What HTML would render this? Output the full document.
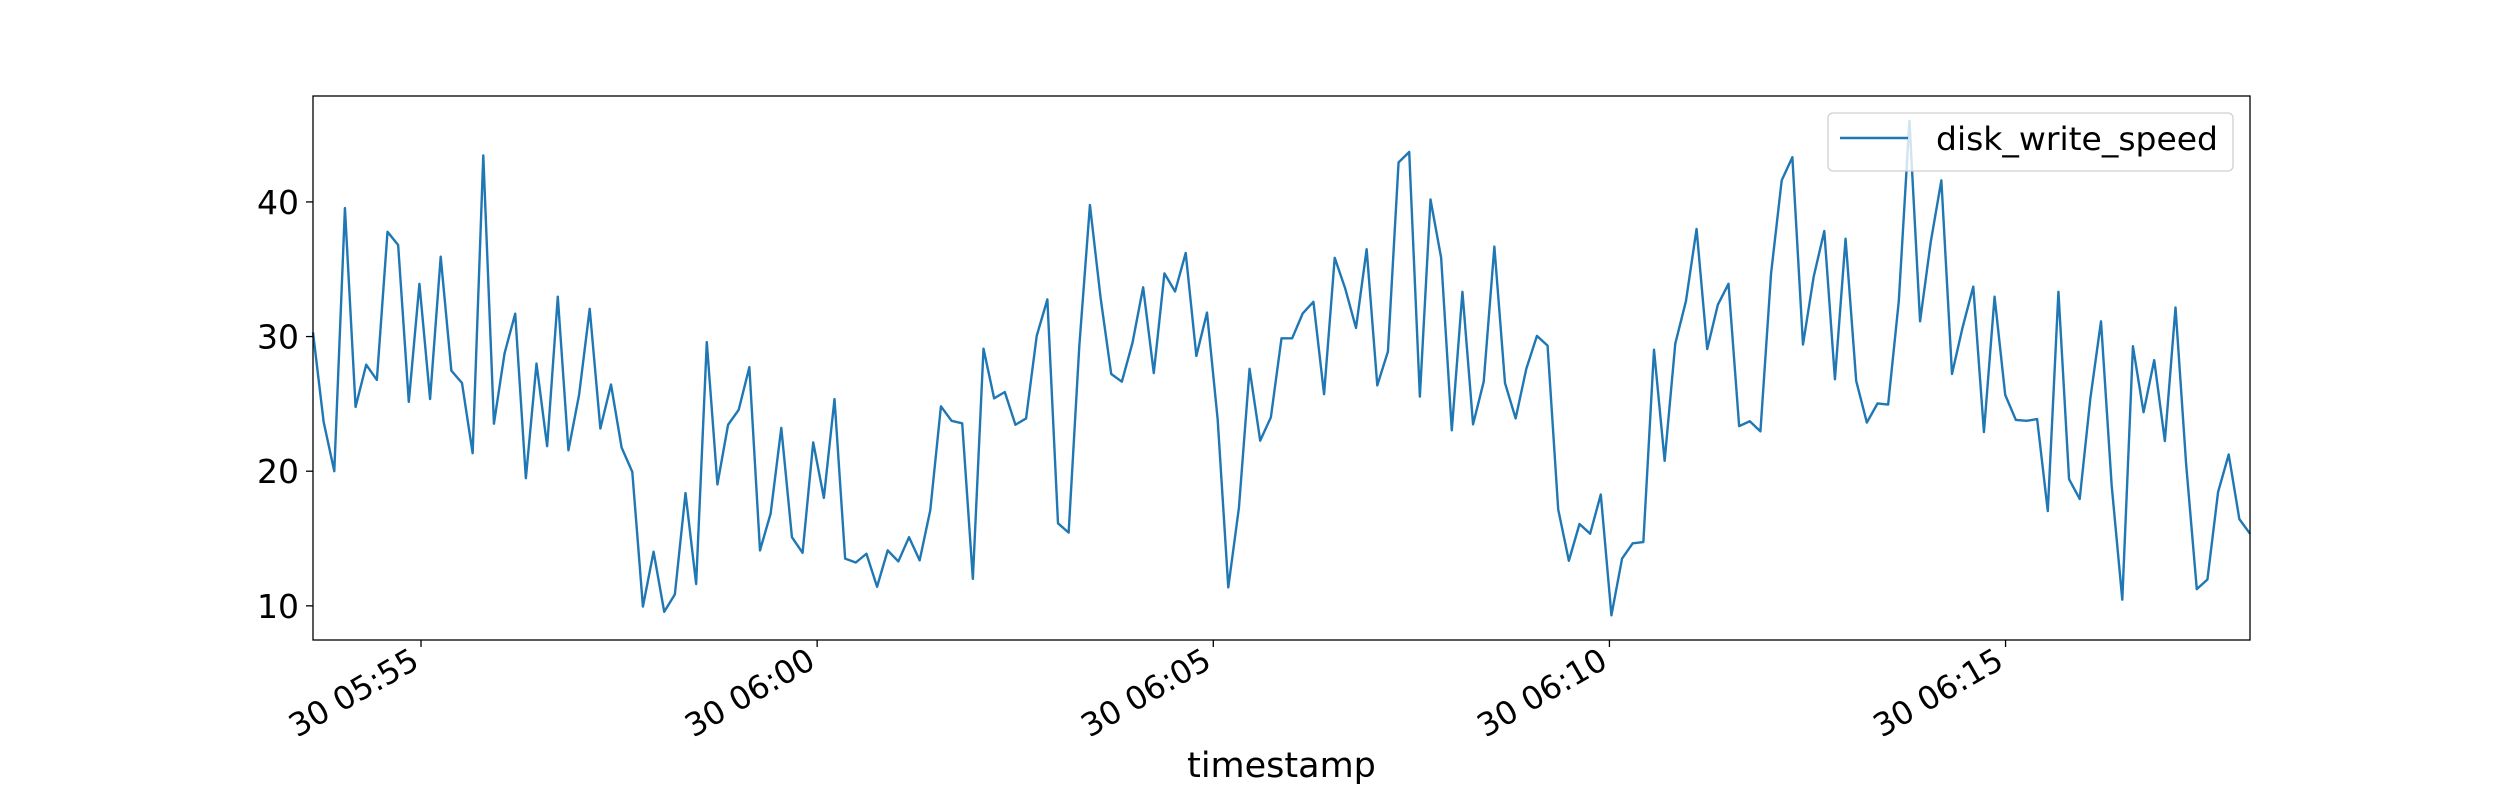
<!DOCTYPE html>
<html><head><meta charset="utf-8"><style>
html,body{margin:0;padding:0;background:#fff;}
svg{display:block;font-family:"DejaVu Sans","Liberation Sans",sans-serif;}
</style></head><body>
<svg id="chart" width="2500" height="800" viewBox="0 0 2500 800" xmlns="http://www.w3.org/2000/svg">
<rect x="0" y="0" width="2500" height="800" fill="#fff"/>
<g id="plot"></g>
</svg>
<script>
const values = [30.31,23.66,20.0,39.54,24.77,27.91,26.78,37.78,36.80,25.15,33.92,25.36,35.93,27.47,26.55,21.34,43.45,23.53,28.76,31.70,19.48,27.99,21.86,32.96,21.55,25.67,32.06,
23.17,26.44,21.75,19.95,9.95,14.02,9.56,10.85,18.38,11.62,29.59,19.02,23.45,24.56,27.73,14.12,16.86,23.22,15.10,13.94,22.14,18.02,25.36,13.51,13.22,13.87,
11.42,14.12,13.30,15.10,13.38,17.11,24.82,23.74,23.56,12.01,29.10,25.41,25.88,23.45,23.92,30.05,32.76,16.13,15.44,29.28,39.77,32.89,27.22,26.65,29.54,33.66,
27.29,34.69,33.35,36.21,28.56,31.78,23.87,11.37,17.29,27.60,22.27,24.0,29.87,29.87,31.73,32.58,25.72,35.85,33.53,30.64,36.49,26.37,28.89,42.94,43.71,
25.54,40.18,35.85,23.04,33.32,23.48,26.65,36.68,26.55,23.92,27.60,30.05,29.33,17.16,13.35,16.08,15.36,18.27,9.30,13.51,14.64,14.74,29.02,20.77,29.48,32.63,
37.99,29.07,32.37,33.92,23.35,23.71,22.96,34.69,41.60,43.32,29.41,34.43,37.84,26.83,37.27,26.70,23.61,25.03,24.95,32.63,46.03,31.13,37.01,41.60,27.22,
30.70,33.71,22.91,32.96,25.67,23.81,23.74,23.87,17.04,33.32,19.41,17.94,25.41,31.13,18.97,10.46,29.28,24.38,28.25,22.24,32.16,20.52,11.24,11.96,18.45,21.24,16.44,15.36];
const startSeconds = 5*3600 + 53*60 + 38.2;   // 05:53:38
const stepSeconds = 8.06;
const yTicks = [10, 20, 30, 40];
const xTickMinutes = ["05:55", "06:00", "06:05", "06:10", "06:15"];
const xTickLabels = ["30 05:55", "30 06:00", "30 06:05", "30 06:10", "30 06:15"];

const NS = "http://www.w3.org/2000/svg";
const L = 313, R = 2250, T = 96, B = 640;
const times = values.map((v, i) => startSeconds + i * stepSeconds);
const tMin = times[0], tMax = times[times.length - 1];
let vMin = Math.min(...values), vMax = Math.max(...values);
const pad = (vMax - vMin) * 0.05;
const yLo = vMin - pad, yHi = vMax + pad;
function xScale(t) { return L + (t - tMin) / (tMax - tMin) * (R - L); }
function yScale(v) { return B - (v - yLo) / (yHi - yLo) * (B - T); }
const plot = document.getElementById('plot');
function mk(tag, attrs, parent) {
  const e = document.createElementNS(NS, tag);
  for (const k in attrs) e.setAttribute(k, attrs[k]);
  (parent || plot).appendChild(e);
  return e;
}

const pts = values.map((v, i) => xScale(times[i]).toFixed(2) + ',' + yScale(v).toFixed(2)).join(' ');
const line = mk('polyline', {points: pts, fill: 'none', stroke: '#1f77b4', 'stroke-width': 2.4, 'stroke-linejoin': 'round'});



yTicks.forEach(v => {
  const y = yScale(v);
  const tk = mk('line', {x1: L - 7, x2: L, y1: y, y2: y, stroke: '#000', 'stroke-width': 1.3});
  
  
  const tx = mk('text', {x: L - 14, y: y + 12, 'text-anchor': 'end', 'font-size': 33, fill: '#000'});
  tx.textContent = v;
  
  
});

xTickMinutes.forEach((m, i) => {
  const [hh, mm] = m.split(':').map(Number);
  const x = xScale(hh * 3600 + mm * 60);
  const tk = mk('line', {x1: x, x2: x, y1: B, y2: B + 7, stroke: '#000', 'stroke-width': 1.3});
  
  
  const ax = x - 6;
  const tx = mk('text', {x: ax, y: B + 28, 'text-anchor': 'end', 'font-size': 32, fill: '#000', transform: 'rotate(-30 ' + ax + ' ' + (B + 16) + ')'});
  tx.textContent = xTickLabels[i];
  
  
});

const frame = mk('rect', {x: L, y: T, width: R - L, height: B - T, fill: 'none', stroke: '#000', 'stroke-width': 1.3});



const xl = mk('text', {x: (L + R) / 2, y: 777, 'text-anchor': 'middle', 'font-size': 35, fill: '#000'});
xl.textContent = 'timestamp';



const lg = mk('g', {});


const lbox = mk('rect', {x: 1828, y: 113, width: 405, height: 58, rx: 5, fill: '#fff', 'fill-opacity': 0.8, stroke: '#d0d0d0', 'stroke-width': 1.3}, lg);


const lline = mk('line', {x1: 1840, x2: 1908, y1: 138, y2: 138, stroke: '#1f77b4', 'stroke-width': 2.4}, lg);


const ltext = mk('text', {x: 1936, y: 150, 'font-size': 32, fill: '#000', textLength: 282, lengthAdjust: 'spacingAndGlyphs'}, lg);
ltext.textContent = 'disk_write_speed';


</script>
</body></html>
